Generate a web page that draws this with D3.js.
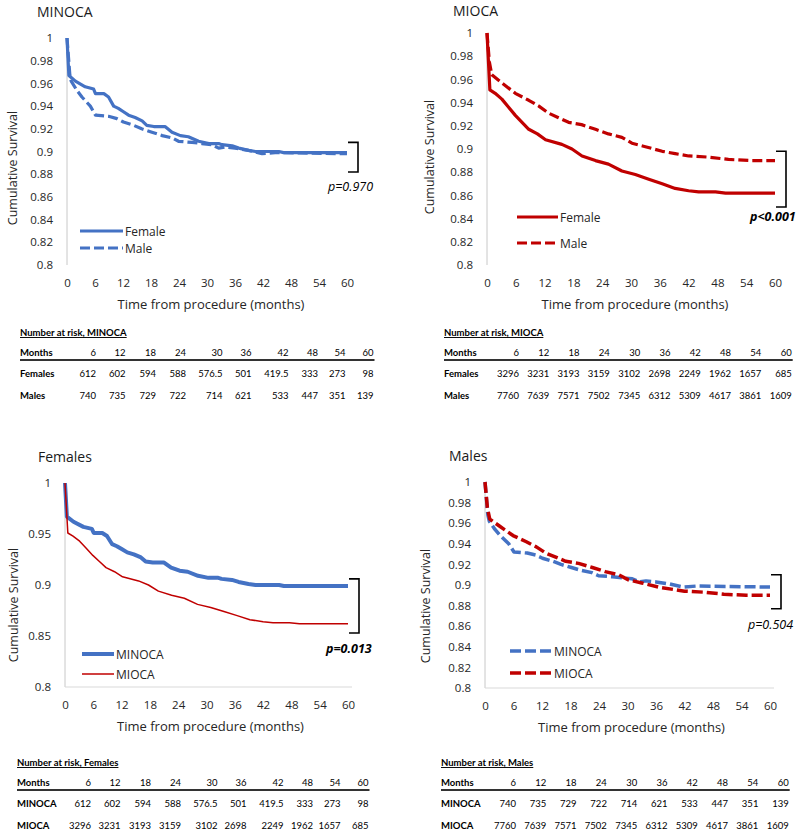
<!DOCTYPE html>
<html><head><meta charset="utf-8">
<script src="https://cdn.jsdelivr.net/npm/d3@7"></script>
<style>
body{margin:0;background:#fff;}
svg{display:block;}
</style></head>
<body>
<svg id="chart" width="800" height="835"></svg>
<script>
// ---------------- DATA ----------------
const xTicks = [0, 6, 12, 18, 24, 30, 36, 42, 48, 54, 60];
const yTicksFine = [0.8, 0.82, 0.84, 0.86, 0.88, 0.9, 0.92, 0.94, 0.96, 0.98, 1];
const yTicksCoarse = [0.8, 0.85, 0.9, 0.95, 1];
const riskMonths = [6, 12, 18, 24, 30, 36, 42, 48, 54, 60];

// survival curves [month, cumulative survival]
const minocaFemale = [[0,1],[0.4,0.967],[1.8,0.962],[3.9,0.957],[5.7,0.955],[6.1,0.951],[7.9,0.951],[8.9,0.948],[10,0.940],[11,0.938],[12.1,0.935],[13.2,0.932],[14.6,0.930],[16.1,0.927],[17.1,0.923],[18.6,0.922],[21,0.922],[22.5,0.917],[24.3,0.914],[26,0.913],[28.2,0.909],[30.4,0.907],[32.5,0.907],[33.2,0.906],[35.4,0.905],[36.8,0.903],[38.9,0.901],[40.4,0.900],[45.4,0.900],[46.4,0.899],[60,0.899]];
const minocaMale = [[0,1],[0.6,0.968],[0.9,0.962],[2.1,0.954],[3.2,0.948],[5,0.940],[6.1,0.932],[8.9,0.931],[10.7,0.929],[12.1,0.926],[14.3,0.923],[16,0.920],[18.2,0.917],[20.4,0.914],[22.5,0.912],[23.9,0.909],[26.8,0.908],[28.9,0.907],[31,0.906],[32.5,0.903],[33.9,0.904],[36,0.903],[38.9,0.901],[41.8,0.898],[44.6,0.899],[60,0.898]];
const miocaFemale = [[0,1],[0.6,0.951],[1.7,0.948],[3.1,0.943],[4.5,0.936],[5.9,0.929],[7.3,0.923],[8.7,0.917],[10.5,0.913],[12.2,0.908],[15.6,0.904],[17.7,0.900],[19.8,0.894],[22.6,0.890],[25.3,0.887],[28.1,0.881],[30.9,0.878],[33.7,0.874],[36.5,0.870],[39.2,0.866],[42,0.864],[44.1,0.863],[47.6,0.863],[49.7,0.862],[60,0.862]];
const miocaMale = [[0,1],[0.5,0.975],[1,0.964],[3.1,0.957],[5.9,0.948],[8.7,0.942],[10.8,0.937],[12.8,0.931],[14.9,0.927],[17,0.923],[19.7,0.921],[22.6,0.917],[25.3,0.913],[28.1,0.910],[30.2,0.905],[33,0.902],[36.5,0.898],[39.2,0.896],[42,0.894],[46.2,0.893],[50.3,0.891],[55,0.890],[60,0.890]];

// number at risk
const riskMinocaFemales = [612, 602, 594, 588, 576.5, 501, 419.5, 333, 273, 98];
const riskMinocaMales   = [740, 735, 729, 722, 714, 621, 533, 447, 351, 139];
const riskMiocaFemales  = [3296, 3231, 3193, 3159, 3102, 2698, 2249, 1962, 1657, 685];
const riskMiocaMales    = [7760, 7639, 7571, 7502, 7345, 6312, 5309, 4617, 3861, 1609];

const pValues = ["p=0.970", "p<0.001", "p=0.013", "p=0.504"];

// ---------------- STYLE ----------------
const BLUE = "#4472C4", RED = "#C00000";
const FONT = "'Open Sans', 'DejaVu Sans', sans-serif";
const TFONT = "Lato, 'Open Sans', sans-serif";
const svg = d3.select("#chart");

const panels = [
  {title:"MINOCA", L:67, R:347, T:38, B:265, yTicks:yTicksFine, titleX:37, titleY:17, yTitleX:12, yTitleY:168, xAxisLine:false,
   series:[{d:minocaFemale, name:"Female", color:BLUE, w:3.2, dash:null},
           {d:minocaMale, name:"Male", color:BLUE, w:3.2, dash:"10,4"}],
   legX:80, legLen:43, legY:[231,248],
   br:[0.908,0.882], p:pValues[0], pBold:false, pX:328, pY:191},
  {title:"MIOCA", L:487, R:775, T:33, B:265, yTicks:yTicksFine, titleX:453, titleY:16, yTitleX:429, yTitleY:157, xAxisLine:false,
   series:[{d:miocaFemale, name:"Female", color:RED, w:3.2, dash:null},
           {d:miocaMale, name:"Male", color:RED, w:3.2, dash:"10,4"}],
   legX:517, legLen:41, legY:[217,243],
   br:[0.898,0.850], p:pValues[1], pBold:true, pX:750, pY:221},
  {title:"Females", L:65, R:348, T:483, B:687, yTicks:yTicksCoarse, titleX:38, titleY:462, yTitleX:13, yTitleY:605, xAxisLine:true,
   series:[{d:minocaFemale, name:"MINOCA", color:BLUE, w:4, dash:null},
           {d:miocaFemale, name:"MIOCA", color:RED, w:1.5, dash:null}],
   legX:82, legLen:32, legY:[654,674],
   br:[0.906,0.853], p:pValues[2], pBold:true, pX:326, pY:653},
  {title:"Males", L:485, R:770, T:482, B:688, yTicks:yTicksFine, titleX:449, titleY:461, yTitleX:425, yTitleY:606, xAxisLine:true,
   series:[{d:minocaMale, name:"MINOCA", color:BLUE, w:3.5, dash:"11,4"},
           {d:miocaMale, name:"MIOCA", color:RED, w:3.5, dash:"11,4"}],
   legX:510, legLen:42, legY:[651,673],
   br:[0.910,0.877], p:pValues[3], pBold:false, pX:748, pY:629}
];

panels.forEach(p => {
  const x = d3.scaleLinear().domain([0, 60]).range([p.L, p.R]);
  const y = d3.scaleLinear().domain([0.8, 1]).range([p.B, p.T]);
  const g = svg.append("g");

  // axis lines
  g.append("line").attr("x1", p.L).attr("x2", p.L).attr("y1", p.T).attr("y2", p.B)
    .attr("stroke", "#c8c8c8").attr("stroke-width", 1);
  if (p.xAxisLine) g.append("line").attr("x1", p.L).attr("x2", p.R + 4).attr("y1", p.B).attr("y2", p.B)
    .attr("stroke", "#d9d9d9").attr("stroke-width", 1);

  // y axis
  const ya = d3.axisLeft(y).tickValues(p.yTicks).tickSize(0).tickPadding(14)
    .tickFormat(v => String(+v.toFixed(2)));
  g.append("g").attr("transform", `translate(${p.L},0)`).call(ya)
    .call(s => s.select(".domain").remove())
    .selectAll("text").attr("font-family", FONT).attr("font-size", 11.5).attr("fill", "#262626");

  // x axis
  const xa = d3.axisBottom(x).tickValues(xTicks).tickSize(0).tickPadding(14);
  g.append("g").attr("transform", `translate(0,${p.B})`).call(xa)
    .call(s => s.select(".domain").remove())
    .selectAll("text").attr("font-family", FONT).attr("font-size", 11.5).attr("fill", "#262626");

  // titles
  g.append("text").attr("x", p.titleX).attr("y", p.titleY).text(p.title)
    .attr("font-family", FONT).attr("font-size", 14).attr("fill", "#1a1a1a");
  g.append("text").attr("x", (p.L + p.R) / 2 + 4).attr("y", p.B + 44).attr("text-anchor", "middle")
    .text("Time from procedure (months)").attr("font-family", FONT).attr("font-size", 13).attr("fill", "#262626");
  g.append("text").attr("transform", `translate(${p.yTitleX},${p.yTitleY}) rotate(-90)`)
    .attr("text-anchor", "middle").attr("dominant-baseline", "central")
    .text("Cumulative Survival").attr("font-family", FONT).attr("font-size", 12.5).attr("fill", "#262626");

  // curves
  const line = d3.line().x(d => x(d[0])).y(d => y(d[1])).curve(d3.curveLinear);
  p.series.forEach(s => {
    g.append("path").datum(s.d).attr("d", line).attr("fill", "none")
      .attr("stroke", s.color).attr("stroke-width", s.w)
      .attr("stroke-dasharray", s.dash).attr("stroke-linejoin", "round");
  });

  // legend
  p.series.forEach((s, i) => {
    g.append("line").attr("x1", p.legX).attr("x2", p.legX + p.legLen)
      .attr("y1", p.legY[i]).attr("y2", p.legY[i])
      .attr("stroke", s.color).attr("stroke-width", s.w).attr("stroke-dasharray", s.dash);
    g.append("text").attr("x", p.legX + p.legLen + 2).attr("y", p.legY[i]).attr("dominant-baseline", "central")
      .text(s.name).attr("font-family", FONT).attr("font-size", 12).attr("fill", "#262626");
  });

  // bracket
  const bx = x(60) + 11;
  g.append("path")
    .attr("d", `M${bx - 10},${y(p.br[0])}H${bx}V${y(p.br[1])}H${bx - 10}`)
    .attr("fill", "none").attr("stroke", "#000").attr("stroke-width", 1.6);
  g.append("text").attr("x", p.pX).attr("y", p.pY).text(p.p)
    .attr("font-family", FONT).attr("font-size", 12.5).attr("font-style", "italic")
    .attr("font-weight", p.pBold ? "bold" : "normal").attr("fill", "#000");
});

// ---------------- TABLES ----------------
const unevenGaps = [29.5, 30.5, 30, 36.5, 29, 37, 29.5, 27.5, 28];
const evenGaps = [30.3, 30.3, 30.3, 30.3, 30.3, 30.3, 30.3, 30.3, 30.3];
const tables = [
  {title:"Number at risk, MINOCA", X:20, first:96, gaps:unevenGaps, Y:336,
   rows:[["Females", riskMinocaFemales], ["Males", riskMinocaMales]]},
  {title:"Number at risk, MIOCA", X:444, first:519, gaps:evenGaps, Y:336,
   rows:[["Females", riskMiocaFemales], ["Males", riskMiocaMales]]},
  {title:"Number at risk, Females", X:17, first:91, gaps:unevenGaps, Y:766,
   rows:[["MINOCA", riskMinocaFemales], ["MIOCA", riskMiocaFemales]]},
  {title:"Number at risk, Males", X:441, first:516, gaps:evenGaps, Y:766,
   rows:[["MINOCA", riskMinocaMales], ["MIOCA", riskMiocaMales]]}
];

tables.forEach(t => {
  const edges = [t.first];
  t.gaps.forEach(gp => edges.push(edges[edges.length - 1] + gp));
  const cx = d3.scaleOrdinal().domain(riskMonths).range(edges);
  const g = svg.append("g").attr("font-family", TFONT).attr("font-size", 9.5).attr("fill", "#000");
  g.append("text").attr("x", t.X).attr("y", t.Y).text(t.title)
    .attr("font-weight", "bold").attr("text-decoration", "underline");
  const hy = t.Y + 20;
  g.append("text").attr("x", t.X).attr("y", hy).text("Months").attr("font-weight", "bold");
  g.selectAll(".h").data(riskMonths).enter().append("text")
    .attr("x", d => cx(d)).attr("y", hy).attr("text-anchor", "end").text(d => d);
  g.append("line").attr("x1", t.X).attr("x2", edges[edges.length - 1] + 1)
    .attr("y1", hy + 4).attr("y2", hy + 4).attr("stroke", "#333").attr("stroke-width", 2);
  t.rows.forEach((r, i) => {
    const ry = hy + 21 + i * 22;
    g.append("text").attr("x", t.X).attr("y", ry).text(r[0]).attr("font-weight", "bold");
    g.selectAll(".v" + i).data(r[1]).enter().append("text")
      .attr("x", (d, j) => cx(riskMonths[j])).attr("y", ry).attr("text-anchor", "end").text(d => d);
  });
});
</script>
</body></html>
